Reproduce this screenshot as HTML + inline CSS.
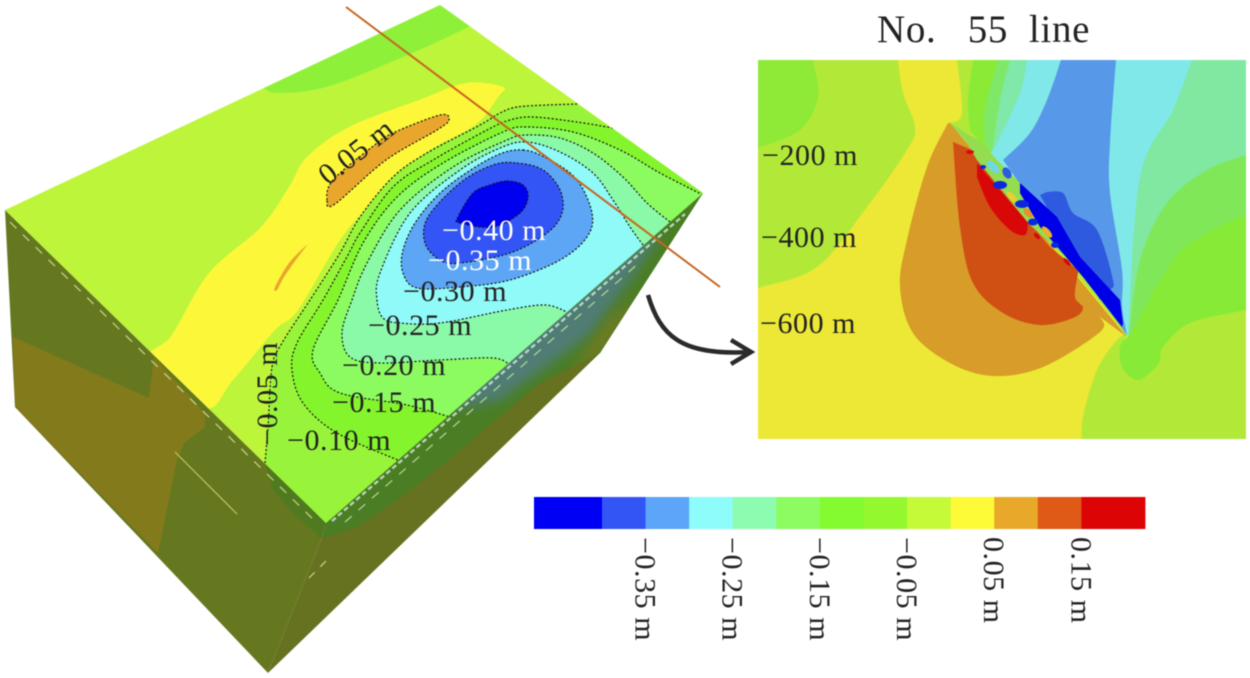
<!DOCTYPE html>
<html lang="en">
<head>
<meta charset="utf-8">
<title>Subsidence contour map and No. 55 line section</title>
<style>
html,body{margin:0;padding:0;background:#fff;width:1250px;height:678px;overflow:hidden}
svg{display:block;filter:blur(.4px)}
text{font-family:"Liberation Serif",serif;fill:#222;white-space:pre;letter-spacing:.55px}
</style>
</head>
<body>
<svg id="figure" width="1250" height="678" viewBox="0 0 1250 678" xmlns="http://www.w3.org/2000/svg">
<defs>
<clipPath id="top-clip"><polygon points="440,5 703,193 326,523 5,210"/></clipPath>
<clipPath id="panel-clip"><rect x="758" y="60" width="488" height="379"/></clipPath>
<clipPath id="band-clip"><polygon points="326,523 322,538 357,527 407,493 440,467 540,383 600,353 703,193"/></clipPath>
<filter id="soft" x="-20%" y="-20%" width="140%" height="140%"><feGaussianBlur stdDeviation="6"/></filter>
</defs>

<g>
<polygon points="5,210 326,523 321,540 268,673 15,407" fill="#66781f"/>
<polygon points="13,337 149,398 154,357 205,413 205,427 184,443 177,460 158,553 15,407" fill="#837a1c"/>
<polygon points="326,523 321,540 268,673 600,353 703,193" fill="#66721f"/>
<polygon points="326,523 322,538 357,527 407,493 440,467 540,383 600,353 703,193" fill="#4a7d24"/>
<g clip-path="url(#band-clip)">
<polygon points="660,235 640,240 500,360 450,410 500,400 590,335 630,280" fill="#4f7d76" filter="url(#soft)"/>
<polygon points="640,293 600,353 570,375 610,320" fill="#7a7a20" filter="url(#soft)"/>
</g>
<polygon points="265,462 273,490 295,515 321,538 326,523" fill="#4f7a1f"/>

<g clip-path="url(#top-clip)">
<rect x="0" y="0" width="720" height="530" fill="#bdf53a"/>
<path class="sm" data-close="440,0" data-pts="263,88 279,93 326,87 396,60 466,28 470,20" fill="#8ff03a"/>
<path class="sm" data-loop="1" data-pts="503,87 466,83 419,100 349,127 307,157 289,187 261,227 209,273 172,335 150,360 205,408 233,380 275,330 298,310 340,240 372,203 419,157 475,125 498,97" fill="#fdf73a"/>
<path class="sm" data-loop="1" data-pts="327,200 333,180 372,147 393,133 440,115 449,120 437,130 386,160 335,204" fill="#e8a62c" stroke="#111" stroke-width="1.2" stroke-dasharray="2 2"/>
<path class="sm" data-loop="1" data-pts="307,245 298,257 284,277 277,290 275,287 289,263" fill="#e8a62c"/>

<path class="sm" data-close="326,523 703,193" data-pts="577,104 547,105 517,107 500,113 480,125 427,153 393,177 360,217 340,253 310,300 282,343 272,367 268,427 265,463" fill="#98f43a"/>
<path class="sm" data-close="703,193" data-pts="613,128 577,122 533,117 510,120 487,130 433,160 393,187 360,233 349,253 323,300 297,343 292,370 303,403 337,433 400,461" fill="#84f52c"/>
<path class="sm" data-pts="703,195 660,173 620,150 573,132 527,127 503,132 443,163 397,197 363,243 338,300 313,350 320,373 340,393 407,405 450,417" fill="#8cfb60"/>
<path class="sm" data-pts="670,222 647,203 623,177 593,153 560,138 527,135 507,140 453,167 400,210 367,263 352,300 342,333 350,357 380,363 440,360 493,358 510,365" fill="#8af9a8"/>
<path class="sm" data-pts="643,245 630,227 613,200 593,173 560,152 527,142 500,148 460,170 410,213 380,273 377,300 383,318 400,323 440,323 507,310 545,305 567,312" fill="#8ffaf8"/>
<path class="sm" data-loop="1" data-pts="523,150 550,160 577,180 592,213 587,237 560,260 510,280 460,287 417,288 403,273 403,250 417,220 447,187 493,157" fill="#5da5f5"/>
<path class="sm" data-loop="1" data-pts="517,163 543,170 560,190 562,213 547,233 510,253 460,263 440,260 425,243 428,217 460,183 493,165" fill="#3355f5"/>
<path class="sm" data-loop="1" data-pts="507,181 523,185 528,197 520,213 493,227 460,223 458,217 473,193 490,185" fill="#0000f0"/>

<g fill="none" stroke="#111" stroke-width="1.2" stroke-dasharray="2 2">
<path class="sm" data-pts="577,104 547,105 517,107 500,113 480,125 427,153 393,177 360,217 340,253 310,300 282,343 272,367 268,427 265,463"/>
<path class="sm" data-pts="613,128 577,122 533,117 510,120 487,130 433,160 393,187 360,233 349,253 323,300 297,343 292,370 303,403 337,433 400,461"/>
<path class="sm" data-pts="703,195 660,173 620,150 573,132 527,127 503,132 443,163 397,197 363,243 338,300 313,350 320,373 340,393 407,405 450,417"/>
<path class="sm" data-pts="670,222 647,203 623,177 593,153 560,138 527,135 507,140 453,167 400,210 367,263 352,300 342,333 350,357 380,363 440,360 493,358 510,365"/>
<path class="sm" data-pts="643,245 630,227 613,200 593,173 560,152 527,142 500,148 460,170 410,213 380,273 377,300 383,318 400,323 440,323 507,310 545,305 567,312"/>
<path class="sm" data-loop="1" data-pts="523,150 550,160 577,180 592,213 587,237 560,260 510,280 460,287 417,288 403,273 403,250 417,220 447,187 493,157"/>
<path class="sm" data-loop="1" data-pts="517,163 543,170 560,190 562,213 547,233 510,253 460,263 440,260 425,243 428,217 460,183 493,165"/>
<path class="sm" data-loop="1" data-pts="507,181 523,185 528,197 520,213 493,227 460,223 458,217 473,193 490,185"/>
</g>
</g>

<g fill="none">
<line x1="332" y1="521" x2="685" y2="214" stroke="#cfeedd" stroke-width="2.4" stroke-dasharray="5 3" opacity=".8"/>
<line x1="345" y1="522" x2="640" y2="262" stroke="#b8d890" stroke-width="1.2" stroke-dasharray="9 9"/>
<line x1="10" y1="222" x2="318" y2="524" stroke="#c4d880" stroke-width="1.2" stroke-dasharray="9 9"/>
<line x1="175" y1="452" x2="237" y2="514" stroke="#c4c45a" stroke-width="1.2"/>
<line x1="309" y1="578" x2="327" y2="560" stroke="#c4d880" stroke-width="1.2" stroke-dasharray="8 8"/>
</g>
</g>

<line x1="346" y1="7" x2="720" y2="287" stroke="#c8661f" stroke-width="2"/>

<g font-size="30">
<text transform="translate(328 186) rotate(-38)">0.05 m</text>
<text x="442" y="240" style="fill:#fff">−0.40 m</text>
<text x="428" y="270" style="fill:#fff">−0.35 m</text>
<text x="403" y="301">−0.30 m</text>
<text x="368" y="335">−0.25 m</text>
<text x="342" y="375">−0.20 m</text>
<text x="332" y="412">−0.15 m</text>
<text x="287" y="450">−0.10 m</text>
<text transform="translate(277 446) rotate(-90)">−0.05 m</text>
</g>

<path d="M648 295 C660 335,680 356,750 352" fill="none" stroke="#2a2a2a" stroke-width="4.5"/>
<path d="M731 340 L751 352 L731 364" fill="none" stroke="#2a2a2a" stroke-width="4.5"/>

<text x="877" y="42" font-size="39" textLength="213" lengthAdjust="spacing">No.   55  line</text>

<g clip-path="url(#panel-clip)">
<rect x="758" y="60" width="488" height="379" fill="#ece835"/>
<path class="sm" data-close="740,280 740,50 898,50" data-pts="898,60 903,93 915,127 907,150 867,207 817,267 758,288" fill="#b2e938"/>
<path class="sm" data-close="740,150 740,50 813,50" data-pts="813,60 818,97 800,130 758,148" fill="#8eea36"/>

<path class="sm" data-close="1127,335 1260,450 1260,50 957,50" data-pts="957,60 962,113 950,123" fill="#b2e938"/>
<path class="sm" data-close="1127,335 1260,450 1260,50 973,50" data-pts="973,60 968,100 970,130" fill="#8aea36"/>
<path class="sm" data-close="1127,335 1260,450 1260,50 998,50" data-pts="998,60 985,110 985,143" fill="#80e868"/>
<path class="sm" data-close="1127,335 1260,450 1260,50 1010,50" data-pts="1010,60 1000,100 992,153" fill="#80e8a8"/>
<path class="sm" data-close="1127,335 1260,450 1260,50 1027,50" data-pts="1027,60 1020,93 997,143 990,153" fill="#80e8e8"/>
<path class="sm" data-close="1127,335 1260,450 1260,50 1061,50" data-pts="1061,60 1047,100 1030,133 1003,160" fill="#5898e8"/>
<path class="sm" data-close="1260,450 1260,50 1116,50" data-pts="1116,60 1110,143 1110,193 1122,270 1122,307 1127,335" fill="#80e8e8"/>
<path class="sm" data-close="1260,450 1260,50 1192,50" data-pts="1192,60 1173,110 1140,177 1128,335" fill="#80e8a0"/>
<path class="sm" data-close="1260,450 1260,155" data-pts="1246,155 1207,170 1167,203 1140,260 1129,335" fill="#80e858"/>
<path class="sm" data-close="1118,345 1110,390 1260,450 1260,215" data-pts="1246,215 1207,233 1173,260 1130,335" fill="#86ea36"/>
<path class="sm" data-close="1260,450 1260,310" data-pts="1246,310 1190,323 1163,347 1160,360 1153,370 1137,380 1122,367 1120,347 1127,335 1117,340 1097,370 1083,417 1082,450" fill="#b2e938"/>

<path class="sm" data-close="1040,195" data-pts="1047,192 1063,193 1073,213 1097,230 1113,280 1110,290 1100,300" fill="#2e5ae0"/>
<path class="sm" data-close="1127,337 950,123" data-pts="948,123 927,167 907,240 900,287 913,333 950,363 993,376 1043,367 1100,332 1100,317" fill="#d89c28"/>
<path class="sm" data-close="1078,270 1050,247 977,160 972,150" data-pts="953,142 960,227 973,283 1003,313 1040,325 1073,318 1083,308 1075,297 1078,273" fill="#d05014"/>
<path class="sm" data-close="977,163" data-pts="977,177 990,207 1010,230 1025,235 1028,223" fill="#d80808"/>
<polygon points="950,123 982,143 997,160 1020,183 1020,193 1040,227 1060,250 1083,277 1122,327 1127,337 1117,323 1077,267 1030,225 977,160 965,140" fill="#94dc50"/>
<polygon points="1020,183 1057,217 1080,257 1120,300 1123,323 1122,327 1083,277 1060,250 1040,227 1020,193" fill="#0000e8"/>
<g>
<ellipse cx="1012" cy="197" rx="7" ry="3" transform="rotate(45 1012 197)" fill="#e8d030"/>
<ellipse cx="1028" cy="213" rx="6" ry="3" transform="rotate(45 1028 213)" fill="#e89030"/>
<ellipse cx="1047" cy="232" rx="7" ry="3" transform="rotate(48 1047 232)" fill="#e8b030"/>
<ellipse cx="993" cy="167" rx="8" ry="4" transform="rotate(45 993 167)" fill="#70d8e0"/>
<ellipse cx="1000" cy="185" rx="7" ry="4" fill="#0a28e0"/>
<ellipse cx="1022" cy="204" rx="7" ry="4" fill="#0a28e0"/>
<ellipse cx="1033" cy="222" rx="5" ry="3.5" fill="#0a28e0"/>
<ellipse cx="1055" cy="245" rx="4" ry="3" fill="#0a28e0"/>
<ellipse cx="983" cy="167" rx="3" ry="2" fill="#0a28e0"/>
<ellipse cx="1007" cy="173" rx="4" ry="6" transform="rotate(-30 1007 173)" fill="#2e5ae0"/>
<ellipse cx="970" cy="152" rx="4" ry="2" fill="#d80808"/>
<ellipse cx="1037" cy="236" rx="4" ry="2" transform="rotate(45 1037 236)" fill="#d80808"/>
<ellipse cx="1067" cy="262" rx="5" ry="2" transform="rotate(45 1067 262)" fill="#d80808"/>
</g>
<g font-size="30">
<text x="762" y="165">−200 m</text>
<text x="761" y="247">−400 m</text>
<text x="760" y="333">−600 m</text>
</g>
</g>

<g id="colorbar"></g>

<script>
// Colour legend data
const bandBreaks = [-0.478, -0.40, -0.35, -0.30, -0.25, -0.20, -0.15, -0.10, -0.05, 0.00, 0.05, 0.10, 0.15, 0.223];
const bandColors = ['#0000f5','#3355f5','#5da5f8','#8ffcfc','#8cfcb0','#8cfc60','#84fa30','#94f82e','#c4fa38','#fdfb38','#e8a82a','#de5a16','#dc0404'];
const tickValues = [-0.35, -0.25, -0.15, -0.05, 0.05, 0.15];
const tickLabels = ['−0.35 m', '−0.25 m', '−0.15 m', '−0.05 m', '0.05 m', '0.15 m'];

const NS = 'http://www.w3.org/2000/svg';
const barLeft = 534, barRight = 1145, barTop = 497, barHeight = 32;
function xScale(v) {
  const lo = bandBreaks[0], hi = bandBreaks[bandBreaks.length - 1];
  return barLeft + (v - lo) / (hi - lo) * (barRight - barLeft);
}
const colorbar = document.getElementById('colorbar');
bandColors.forEach(function (c, i) {
  const r = document.createElementNS(NS, 'rect');
  
  
  r.setAttribute('x', xScale(bandBreaks[i]));
  r.setAttribute('y', barTop);
  r.setAttribute('width', xScale(bandBreaks[i + 1]) - xScale(bandBreaks[i]) + 0.4);
  r.setAttribute('height', barHeight);
  r.setAttribute('fill', c);
  colorbar.appendChild(r);
});
tickValues.forEach(function (v, i) {
  const t = document.createElementNS(NS, 'text');
  
  
  const x = xScale(v) - 10;
  t.setAttribute('transform', 'translate(' + x + ' 537) rotate(90)');
  t.setAttribute('font-size', '30');
  t.textContent = tickLabels[i];
  colorbar.appendChild(t);
});

// Smooth the traced outlines into curves
document.querySelectorAll('.sm').forEach(function (el) {
  const p = el.getAttribute('data-pts').trim().split(/\s+/).map(function (s) { return s.split(',').map(Number); });
  const loop = el.hasAttribute('data-loop');
  const n = p.length;
  const at = function (i) { return loop ? p[(i + n) % n] : p[Math.max(0, Math.min(n - 1, i))]; };
  let d = 'M' + p[0][0] + ' ' + p[0][1];
  const segs = loop ? n : n - 1;
  for (let i = 0; i < segs; i++) {
    const a = at(i - 1), b = at(i), c = at(i + 1), e = at(i + 2);
    d += ' C' + (b[0] + (c[0] - a[0]) / 6).toFixed(1) + ' ' + (b[1] + (c[1] - a[1]) / 6).toFixed(1) +
         ' ' + (c[0] - (e[0] - b[0]) / 6).toFixed(1) + ' ' + (c[1] - (e[1] - b[1]) / 6).toFixed(1) +
         ' ' + c[0] + ' ' + c[1];
  }
  const extra = el.getAttribute('data-close');
  if (extra) d += ' L' + extra.trim().split(/\s+/).map(function (s) { return s.replace(',', ' '); }).join(' L');
  const f = el.getAttribute('fill');
  if (loop || (f && f !== 'none')) d += ' Z';
  el.setAttribute('d', d);
});
</script>
</svg>
</body>
</html>
